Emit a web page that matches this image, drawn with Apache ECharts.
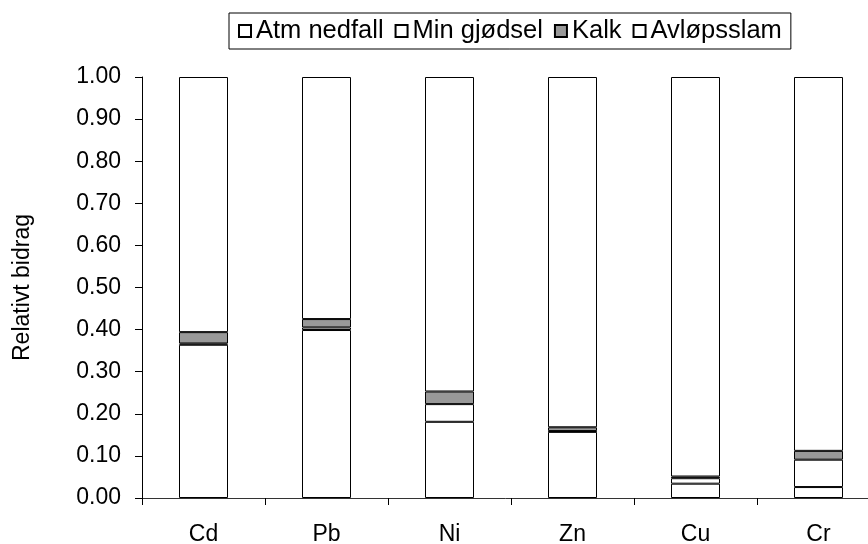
<!DOCTYPE html>
<html>
<head>
<meta charset="utf-8">
<script src="https://cdn.jsdelivr.net/npm/echarts@6/dist/echarts.min.js"></script>
<style>html,body{margin:0;padding:0;background:#fff}#c{width:868px;height:544px}</style>
</head>
<body>
<div id="c"></div>
<script>
var categories = ['Cd', 'Pb', 'Ni', 'Zn', 'Cu', 'Cr'];
var atmNedfall = [0.364, 0.399, 0.181, 0.157, 0.034, 0.026];
var minGjodsel = [0.003, 0.006, 0.042, 0.002, 0.013, 0.065];
var kalk       = [0.027, 0.020, 0.030, 0.009, 0.004, 0.021];
var avlopsslam = [0.606, 0.575, 0.747, 0.832, 0.949, 0.888];
var seriesNames = ['Atm nedfall', 'Min gjødsel', 'Kalk', 'Avløpsslam'];
var seriesColors = ['#ffffff', '#ffffff', '#999999', '#ffffff'];

var FONT = 'Liberation Sans, Arial, sans-serif';
var chart = echarts.init(document.getElementById('c'));
var dataSets = [atmNedfall, minGjodsel, kalk, avlopsslam];
var series = dataSets.map(function (d, i) {
  return {
    name: seriesNames[i],
    type: 'bar',
    stack: 'total',
    barWidth: 49,
    data: d,
    itemStyle: { color: seriesColors[i], borderColor: '#000', borderWidth: 1 },
    emphasis: { disabled: true }
  };
});
chart.setOption({
  animation: false,
  backgroundColor: '#fff',
  textStyle: { fontFamily: FONT },
  legend: {
    data: seriesNames,
    left: 229,
    top: 13,
    icon: 'rect',
    itemWidth: 12,
    itemHeight: 12,
    itemGap: 11,
    padding: [5, 9, 5, 9],
    borderColor: '#000',
    borderWidth: 1,
    backgroundColor: '#fff',
    textStyle: { fontFamily: FONT, fontSize: 25.5, color: '#000' }
  },
  grid: { left: 142, width: 738, top: 77, height: 421, outerBoundsMode: 'none', containLabel: false },
  xAxis: {
    type: 'category',
    data: categories,
    axisLine: { lineStyle: { color: '#333', width: 1 } },
    axisTick: { show: true, length: 7, lineStyle: { color: '#000' } },
    axisLabel: { fontFamily: FONT, fontSize: 23, color: '#000', margin: 25 }
  },
  yAxis: {
    type: 'value',
    min: 0,
    max: 1,
    interval: 0.1,
    name: 'Relativt bidrag',
    nameLocation: 'middle',
    nameGap: 108,
    nameTextStyle: { fontFamily: FONT, fontSize: 23, color: '#000' },
    axisLine: { show: true, lineStyle: { color: '#000', width: 1 } },
    axisTick: { show: true, length: 7, lineStyle: { color: '#000' } },
    axisLabel: {
      fontFamily: FONT, fontSize: 23, color: '#000', margin: 21,
      formatter: function (v) { return v.toFixed(2); }
    },
    splitLine: { show: false }
  },
  series: series
});
</script>
</body>
</html>
